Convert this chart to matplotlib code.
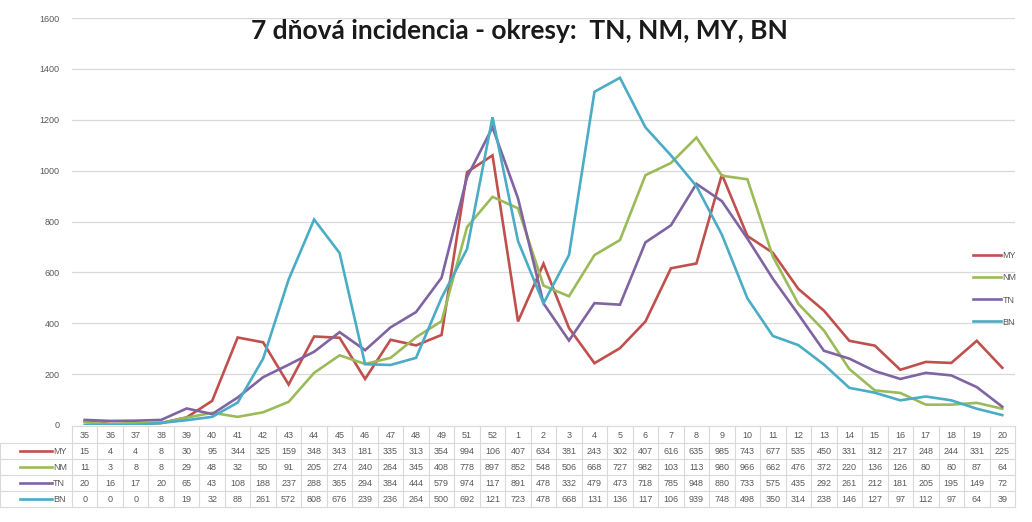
import matplotlib.pyplot as plt
import matplotlib.transforms as mtransforms
from matplotlib.lines import Line2D

# tyzdne (kalendarny tyzden)
weeks = ["35", "36", "37", "38", "39", "40", "41", "42", "43", "44", "45", "46", "47",
         "48", "49", "51", "52", "1", "2", "3", "4", "5", "6", "7", "8", "9", "10",
         "11", "12", "13", "14", "15", "16", "17", "18", "19", "20"]

my = [15, 4, 4, 8, 30, 95, 344, 325, 159, 348, 343, 181, 335, 313, 354, 994, 1060,
      407, 634, 381, 243, 302, 407, 616, 635, 985, 743, 677, 535, 450, 331, 312,
      217, 248, 244, 331, 225]
nm = [11, 3, 8, 8, 29, 48, 32, 50, 91, 205, 274, 240, 264, 345, 408, 778, 897,
      852, 548, 506, 668, 727, 982, 1030, 1130, 980, 966, 662, 476, 372, 220, 136,
      126, 80, 80, 87, 64]
tn = [20, 16, 17, 20, 65, 43, 108, 188, 237, 288, 365, 294, 384, 444, 579, 974, 1170,
      891, 478, 332, 479, 473, 718, 785, 948, 880, 733, 575, 435, 292, 261, 212,
      181, 205, 195, 149, 72]
bn = [0, 0, 0, 8, 19, 32, 88, 261, 572, 808, 676, 239, 236, 264, 500, 692, 1210,
      723, 478, 668, 1310, 1365, 1170, 1060, 939, 748, 498, 350, 314, 238, 146, 127,
      97, 112, 97, 64, 39]

names = ["MY", "NM", "TN", "BN"]
series = [my, nm, tn, bn]
colors = ["#C0504D", "#9BBB59", "#8064A2", "#4BACC6"]

W, H = 1032, 522
fig = plt.figure(figsize=(W / 100, H / 100), dpi=100)
plt.rcParams['font.family'] = ['Liberation Sans', 'DejaVu Sans']

ax_left, ax_right, ax_top, ax_bot = 72, 1015, 18, 425
ax = fig.add_axes([ax_left / W, 1 - ax_bot / H, (ax_right - ax_left) / W, (ax_bot - ax_top) / H])

x = list(range(len(weeks)))
handles = []
for name, vals, c in zip(names, series, colors):
    h, = ax.plot(x, vals, color=c, lw=1.9, label=name, solid_joinstyle='miter')
    handles.append(h)

ax.set_xlim(-0.5, len(weeks) - 0.5)
ax.set_ylim(0, 1600)
ax.set_yticks(range(0, 1601, 200))
ax.set_xticks([])
ax.grid(axis='y', color='#D9D9D9', lw=0.9)
ax.set_axisbelow(True)
for s in ax.spines.values():
    s.set_visible(False)
ax.tick_params(axis='y', length=0, pad=9, labelsize=6.5, labelcolor='#595959')

fig.text(519 / W, 1 - 31 / H, "7 dňová incidencia - okresy:  TN, NM, MY, BN",
         ha='center', va='center', fontsize=19, fontweight='bold',
         family=['Lato', 'DejaVu Sans'], color='#1a1a1a')

leg = fig.legend(handles=handles, loc='center left', bbox_to_anchor=(968 / W, 1 - 289 / H),
                 frameon=False, fontsize=6.5, handlelength=3.2, handletextpad=0.1,
                 labelspacing=1.45, borderpad=0)
for t in leg.get_texts():
    t.set_color('#595959')

# tabulka s hodnotami pod grafom
trans = mtransforms.blended_transform_factory(ax.transData, fig.transFigure)
line_c = '#D9D9D9'
row_y = [435, 451, 467, 483, 499]
row_edges = [426, 443, 459, 475, 491, 507]

def fy(py):
    return 1 - py / H

for i, wk in enumerate(weeks):
    ax.text(i, fy(row_y[0]), wk, transform=trans, ha='center', va='center',
            fontsize=6.5, color='#595959', clip_on=False)
    for r, vals in enumerate(series):
        ax.text(i, fy(row_y[r + 1]), str(vals[i])[:3], transform=trans, ha='center',
                va='center', fontsize=6.5, color='#595959', clip_on=False)

# vertikalne ciary
for i in range(len(weeks) + 1):
    ax.add_line(Line2D([i - 0.5, i - 0.5], [fy(row_edges[0]), fy(row_edges[-1])],
                       transform=trans, color=line_c, lw=0.8, clip_on=False))
# horizontalne ciary
for k, py in enumerate(row_edges):
    x0 = 0 if k > 0 else ax_left
    fig.add_artist(Line2D([x0 / W, ax_right / W], [fy(py), fy(py)], color=line_c, lw=0.8))
fig.add_artist(Line2D([0, 0], [fy(row_edges[1]), fy(row_edges[-1])], color=line_c, lw=0.8))

# popisky riadkov s farebnou ciarou
for r, (name, c) in enumerate(zip(names, colors)):
    yy = fy(row_y[r + 1])
    fig.add_artist(Line2D([20 / W, 52 / W], [yy, yy], color=c, lw=1.9))
    fig.text(53 / W, yy, name, ha='left', va='center', fontsize=6.5, color='#595959')

fig.savefig("out.png", dpi=100)
